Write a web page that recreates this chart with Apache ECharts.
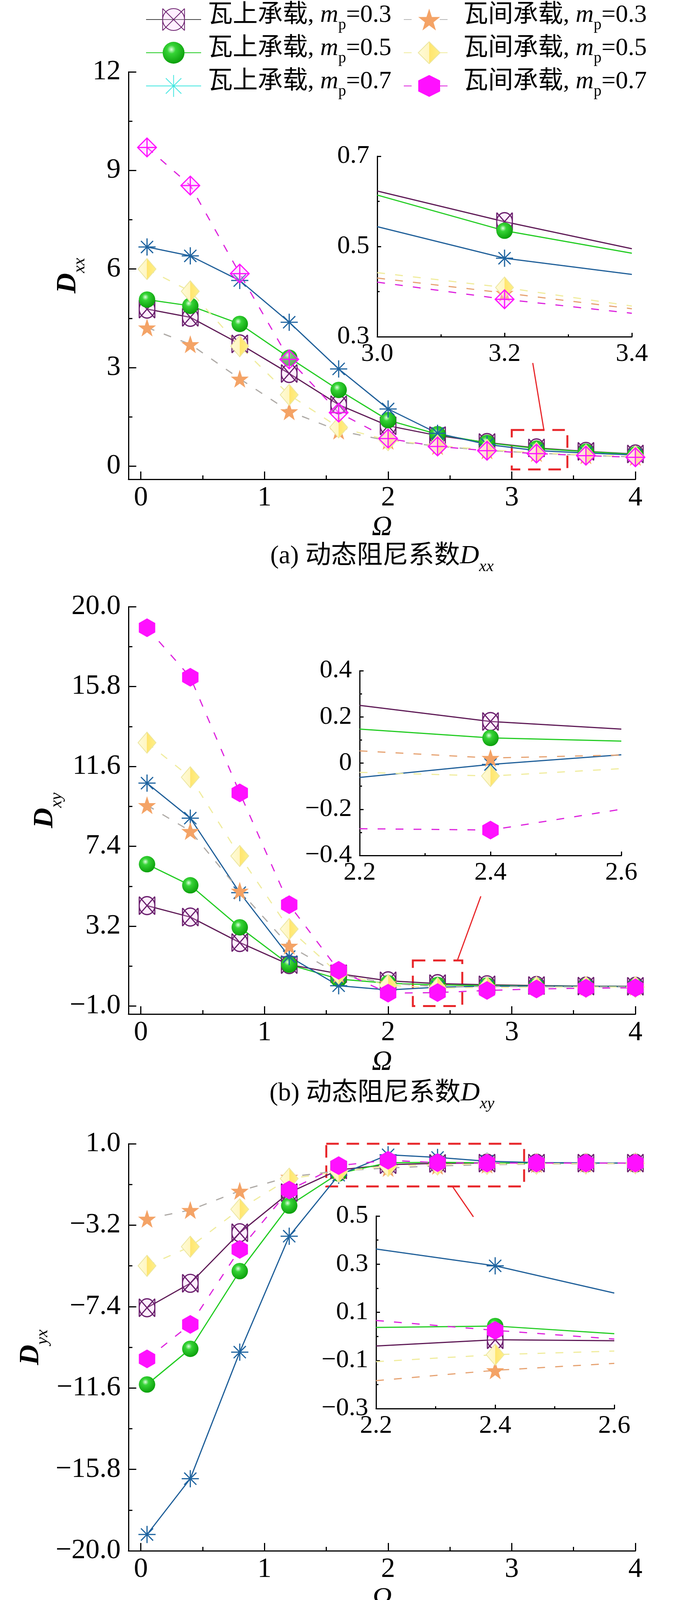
<!DOCTYPE html>
<html>
<head>
<meta charset="utf-8">
<script src="https://cdn.jsdelivr.net/npm/echarts@6/dist/echarts.min.js"></script>
<style>
html,body{margin:0;padding:0;background:#ffffff;}
#chart{width:1772px;height:5616px;}
</style>
</head>
<body>
<div id="chart"></div>
<script>
// ------------------------- DATA -------------------------
const OMEGA = [0.05, 0.4, 0.8, 1.2, 1.6, 2.0, 2.4, 2.8, 3.2, 3.6, 4.0];
const LOAD_TYPES = ['瓦上承载', '瓦间承载'];
const MP_VALUES = ['0.3', '0.5', '0.7'];
const CAPTIONS = ['(a) 动态阻尼系数', '(b) 动态阻尼系数', '(c) 动态阻尼系数', '(d) 动态阻尼系数'];
const SUBSCRIPTS = ['xx', 'xy', 'yx', 'yy'];
const X_NAME = 'Ω';

// (a) Dxx
const DXX_TOP_03 = [4.78, 4.53, 3.72, 2.82, 1.87, 1.23, 0.93, 0.72, 0.555, 0.45, 0.37];
const DXX_TOP_05 = [5.07, 4.88, 4.33, 3.30, 2.32, 1.40, 0.97, 0.71, 0.535, 0.44, 0.36];
const DXX_TOP_07 = [6.67, 6.40, 5.65, 4.38, 2.96, 1.74, 1.00, 0.66, 0.474, 0.40, 0.34];
const DXX_GAP_03 = [4.22, 3.71, 2.66, 1.67, 1.08, 0.77, 0.61, 0.48, 0.397, 0.33, 0.28];
const DXX_GAP_05 = [6.00, 5.32, 3.65, 2.17, 1.18, 0.79, 0.63, 0.50, 0.409, 0.34, 0.30];
const DXX_GAP_07 = [9.70, 8.54, 5.86, 3.25, 1.63, 0.84, 0.60, 0.47, 0.383, 0.32, 0.27];
const INSET_A_X = [3.0, 3.2, 3.4];
const INSET_A_TOP_03 = [0.623, 0.555, 0.495];
const INSET_A_TOP_05 = [0.614, 0.535, 0.485];
const INSET_A_TOP_07 = [0.544, 0.474, 0.438];
const INSET_A_GAP_03 = [0.430, 0.397, 0.362];
const INSET_A_GAP_05 = [0.442, 0.409, 0.368];
const INSET_A_GAP_07 = [0.421, 0.383, 0.352];

// (b) Dxy
const DXY_TOP_03 = [4.28, 3.68, 2.34, 1.18, 0.70, 0.33, 0.18, 0.12, 0.08, 0.05, 0.04];
const DXY_TOP_05 = [6.46, 5.35, 3.14, 1.18, 0.42, 0.20, 0.109, 0.08, 0.06, 0.04, 0.03];
const DXY_TOP_07 = [10.72, 8.88, 4.96, 1.60, 0.07, -0.15, -0.006, 0.05, 0.05, 0.03, 0.02];
const DXY_GAP_03 = [9.56, 8.20, 5.06, 2.17, 0.67, 0.20, 0.022, 0.03, 0.02, 0.01, 0.01];
const DXY_GAP_05 = [12.85, 11.03, 6.89, 3.05, 0.70, 0.10, -0.056, -0.02, 0.0, 0.0, 0.0];
const DXY_GAP_07 = [18.89, 16.29, 10.21, 4.33, 0.88, -0.32, -0.29, -0.18, -0.10, -0.06, -0.04];
const INSET_B_X = [2.2, 2.4, 2.6];
const INSET_B_TOP_03 = [0.25, 0.18, 0.147];
const INSET_B_TOP_05 = [0.147, 0.109, 0.095];
const INSET_B_TOP_07 = [-0.062, -0.006, 0.036];
const INSET_B_GAP_03 = [0.053, 0.022, 0.035];
const INSET_B_GAP_05 = [-0.040, -0.056, -0.024];
const INSET_B_GAP_07 = [-0.284, -0.290, -0.200];

// (c) Dyx
const DYX_TOP_03 = [-7.46, -6.20, -3.59, -1.52, -0.35, -0.08, -0.014, 0.0, 0.0, 0.0, 0.0];
const DYX_TOP_05 = [-11.42, -9.58, -5.57, -2.19, -0.53, 0.02, 0.043, 0.01, 0.0, 0.0, 0.0];
const DYX_TOP_07 = [-19.16, -16.28, -9.75, -3.77, -0.62, 0.43, 0.293, 0.10, 0.03, 0.01, 0.0];
const DYX_GAP_03 = [-2.87, -2.42, -1.43, -0.71, -0.40, -0.25, -0.141, -0.08, -0.05, -0.03, -0.02];
const DYX_GAP_05 = [-5.30, -4.31, -2.38, -0.80, -0.44, -0.15, -0.076, -0.04, -0.03, -0.02, -0.01];
const DYX_GAP_07 = [-10.10, -8.32, -4.45, -1.39, -0.13, 0.15, 0.025, 0.0, 0.0, 0.0, 0.0];
const INSET_C_X = [2.2, 2.4, 2.6];
const INSET_C_TOP_03 = [-0.040, -0.014, -0.018];
const INSET_C_TOP_05 = [0.037, 0.043, 0.011];
const INSET_C_TOP_07 = [0.363, 0.293, 0.180];
const INSET_C_GAP_03 = [-0.184, -0.141, -0.112];
const INSET_C_GAP_05 = [-0.105, -0.076, -0.061];
const INSET_C_GAP_07 = [0.066, 0.025, -0.011];

// (d) Dyy
const DYY_TOP_03 = [4.47, 3.79, 2.56, 1.65, 1.08, 0.90, 0.60, 0.48, 0.404, 0.34, 0.30];
const DYY_TOP_05 = [7.29, 6.24, 4.10, 2.27, 1.20, 0.89, 0.65, 0.50, 0.407, 0.35, 0.31];
const DYY_TOP_07 = [12.30, 10.75, 7.09, 3.76, 1.47, 0.61, 0.42, 0.40, 0.372, 0.33, 0.29];
const DYY_GAP_03 = [5.77, 5.40, 4.41, 3.18, 2.13, 1.26, 0.83, 0.64, 0.518, 0.44, 0.38];
const DYY_GAP_05 = [7.19, 6.76, 5.52, 3.98, 2.56, 1.38, 0.89, 0.66, 0.510, 0.43, 0.37];
const DYY_GAP_07 = [9.50, 8.92, 7.40, 5.31, 3.30, 1.82, 0.95, 0.60, 0.432, 0.36, 0.31];
const INSET_D_X = [3.0, 3.2, 3.4];
const INSET_D_TOP_03 = [0.450, 0.404, 0.374];
const INSET_D_TOP_05 = [0.450, 0.407, 0.377];
const INSET_D_TOP_07 = [0.392, 0.372, 0.346];
const INSET_D_GAP_03 = [0.585, 0.518, 0.469];
const INSET_D_GAP_05 = [0.579, 0.510, 0.464];
const INSET_D_GAP_07 = [0.495, 0.432, 0.407];

// tick labels / axis ranges
const MAIN_X_TICKS = [0, 1, 2, 3, 4];
const MAIN_X_RANGE = [-0.1, 4];
const DXX_Y_TICKS = [0, 3, 6, 9, 12];          const DXX_Y_RANGE = [-0.4, 12];
const DXY_Y_TICKS = [-1.0, 3.2, 7.4, 11.6, 15.8, 20.0]; const DXY_Y_RANGE = [-1.42, 20];
const DYX_Y_TICKS = [-20.0, -15.8, -11.6, -7.4, -3.2, 1.0]; const DYX_Y_RANGE = [-20, 1];
const DYY_Y_TICKS = [0, 2.6, 5.2, 7.8, 10.4, 13.0]; const DYY_Y_RANGE = [-0.42, 13];
const INSET_A_Y_TICKS = [0.3, 0.5, 0.7];  const INSET_A_Y_RANGE = [0.3, 0.7];
const INSET_B_Y_TICKS = [-0.4, -0.2, 0, 0.2, 0.4]; const INSET_B_Y_RANGE = [-0.4, 0.4];
const INSET_C_Y_TICKS = [-0.3, -0.1, 0.1, 0.3, 0.5]; const INSET_C_Y_RANGE = [-0.3, 0.5];
const INSET_D_Y_TICKS = [0.3, 0.5, 0.7];  const INSET_D_Y_RANGE = [0.3, 0.7];

// zoom boxes [xmin, xmax, ymin, ymax] and leader lines [[x,y],[x,y]] in data units
const BOX_A = [3.0, 3.45, -0.1, 1.1];   const LEADER_A = [[3.17, 3.14], [3.26, 1.1]];
const BOX_B = [2.2, 2.6, -1.0, 1.4];    const LEADER_B = [[2.75, 4.77], [2.56, 1.4]];
const BOX_C = [1.5, 3.1, -1.2, 1.0];    const LEADER_C = [[2.52, -1.2], [2.69, -2.77]];
const BOX_D = [3.0, 3.4, -0.1, 1.0];    const LEADER_D = [[3.2, 3.17], [3.2, 1.0]];

// ------------------------- STYLE / LAYOUT -------------------------
const SERIF = "'Liberation Serif','Times New Roman','Noto Sans CJK SC',serif";
const RED = '#E8262A';
const LAYOUT = [
  {grid: {left: 329, top: 184, width: 1298, height: 1043}, inset: {left: 966, top: 400, width: 652, height: 462}, yNameGap: 100, caption: 1437},
  {grid: {left: 329, top: 1553, width: 1298, height: 1043}, inset: {left: 921, top: 1717, width: 670, height: 473}, yNameGap: 150, caption: 2812},
  {grid: {left: 329, top: 2928, width: 1298, height: 1042}, inset: {left: 963, top: 3113, width: 610, height: 493}, yNameGap: 150, caption: 4187},
  {grid: {left: 329, top: 4303, width: 1298, height: 1049}, inset: {left: 938, top: 4472, width: 738, height: 520}, yNameGap: 150, caption: 5565}
];

const PANELS = [
  {main: [DXX_TOP_03, DXX_TOP_05, DXX_TOP_07, DXX_GAP_03, DXX_GAP_05, DXX_GAP_07], yTicks: DXX_Y_TICKS, yRange: DXX_Y_RANGE, yDec: 0,
   insetX: INSET_A_X, inset: [INSET_A_TOP_03, INSET_A_TOP_05, INSET_A_TOP_07, INSET_A_GAP_03, INSET_A_GAP_05, INSET_A_GAP_07], insetYTicks: INSET_A_Y_TICKS, insetYRange: INSET_A_Y_RANGE, box: BOX_A, leader: LEADER_A},
  {main: [DXY_TOP_03, DXY_TOP_05, DXY_TOP_07, DXY_GAP_03, DXY_GAP_05, DXY_GAP_07], yTicks: DXY_Y_TICKS, yRange: DXY_Y_RANGE, yDec: 1,
   insetX: INSET_B_X, inset: [INSET_B_TOP_03, INSET_B_TOP_05, INSET_B_TOP_07, INSET_B_GAP_03, INSET_B_GAP_05, INSET_B_GAP_07], insetYTicks: INSET_B_Y_TICKS, insetYRange: INSET_B_Y_RANGE, box: BOX_B, leader: LEADER_B},
  {main: [DYX_TOP_03, DYX_TOP_05, DYX_TOP_07, DYX_GAP_03, DYX_GAP_05, DYX_GAP_07], yTicks: DYX_Y_TICKS, yRange: DYX_Y_RANGE, yDec: 1,
   insetX: INSET_C_X, inset: [INSET_C_TOP_03, INSET_C_TOP_05, INSET_C_TOP_07, INSET_C_GAP_03, INSET_C_GAP_05, INSET_C_GAP_07], insetYTicks: INSET_C_Y_TICKS, insetYRange: INSET_C_Y_RANGE, box: BOX_C, leader: LEADER_C},
  {main: [DYY_TOP_03, DYY_TOP_05, DYY_TOP_07, DYY_GAP_03, DYY_GAP_05, DYY_GAP_07], yTicks: DYY_Y_TICKS, yRange: DYY_Y_RANGE, yDec: 1,
   insetX: INSET_D_X, inset: [INSET_D_TOP_03, INSET_D_TOP_05, INSET_D_TOP_07, INSET_D_GAP_03, INSET_D_GAP_05, INSET_D_GAP_07], insetYTicks: INSET_D_Y_TICKS, insetYRange: INSET_D_Y_RANGE, box: BOX_D, leader: LEADER_D}
];

const PURPLE_PATH = 'path://M0,0L0,100M100,0L100,100M0,0L100,100M100,0L0,100M50,0A50,50,0,1,1,50,100A50,50,0,1,1,50,0Z';
const ASTER_PATH = 'path://M50,0L50,100M0,50L100,50M14.6,14.6L85.4,85.4M85.4,14.6L14.6,85.4';
const STAR_PATH = 'path://M50,0L61.8,35.1L97.6,35.1L68.8,56.7L79.4,91L50,70L20.6,91L31.2,56.7L2.4,35.1L38.2,35.1Z';
const HEX_PATH = 'path://M50,0L93.3,25L93.3,75L50,100L6.7,75L6.7,25Z';
const DIAMOND_CROSS_PATH = 'path://M50,0L100,50L50,100L0,50ZM50,0L50,100M0,50L100,50';
const SPHERE = {type: 'radial', x: 0.4, y: 0.35, r: 0.7, colorStops: [
  {offset: 0, color: '#e0ffe0'}, {offset: 0.28, color: '#36d436'}, {offset: 1, color: '#079a07'}]};
const HALF_YELLOW = {type: 'linear', x: 0, y: 0, x2: 1, y2: 0, colorStops: [
  {offset: 0, color: '#fffbd8'}, {offset: 0.5, color: '#fff6c0'}, {offset: 0.5, color: '#ffe56e'}, {offset: 1, color: '#fff08a'}]};
const DASH = [20, 26];

function styleFor(k, isInset, panelIdx) {
  const lw = 3;
  switch (k) {
    case 0: return {symbol: PURPLE_PATH, symbolSize: [40, 46],
      itemStyle: {color: 'rgba(255,190,255,0.25)', borderColor: '#6B1F6E', borderWidth: 3},
      lineStyle: {color: '#5E1A56', width: lw, type: 'solid'}};
    case 1: return {symbol: 'circle', symbolSize: 42,
      itemStyle: {color: SPHERE, borderWidth: 0},
      lineStyle: {color: '#22CC22', width: lw, type: 'solid'}};
    case 2: return {symbol: ASTER_PATH, symbolSize: 44,
      itemStyle: {color: 'rgba(0,0,0,0)', borderColor: '#1F64A0', borderWidth: 3},
      lineStyle: {color: '#1F5F99', width: lw, type: 'solid'}};
    case 3: return {symbol: STAR_PATH, symbolSize: 46,
      itemStyle: {color: '#F4A366', borderWidth: 0},
      lineStyle: {color: isInset ? '#E6A271' : '#AEAAA6', width: lw, type: DASH}};
    case 4: return {symbol: 'diamond', symbolSize: [46, 54],
      itemStyle: {color: HALF_YELLOW, borderColor: '#ECE6A0', borderWidth: 2},
      lineStyle: {color: '#F0EC9E', width: lw, type: DASH}};
    default:
      if (panelIdx === 0) return {symbol: DIAMOND_CROSS_PATH, symbolSize: 48,
        itemStyle: {color: 'rgba(255,180,255,0.35)', borderColor: '#FF10FF', borderWidth: 3},
        lineStyle: {color: '#DD22DD', width: lw, type: DASH}};
      return {symbol: HEX_PATH, symbolSize: [42, 48],
        itemStyle: {color: '#FF10FF', borderWidth: 0},
        lineStyle: {color: '#DD22DD', width: lw, type: DASH}};
  }
}

function seriesName(k) {
  return LOAD_TYPES[k < 3 ? 0 : 1] + ', mp=' + MP_VALUES[k % 3];
}

function fmt(dec) {
  return function (v) {
    if (Math.abs(v) < 1e-9) return '0';
    return v.toFixed(dec).replace('-', '\u2212');
  };
}
function midpoints(arr) {
  const r = [];
  for (let i = 0; i < arr.length - 1; i++) r.push(+((arr[i] + arr[i + 1]) / 2).toFixed(4));
  return r;
}

const grids = [], xAxes = [], yAxes = [], series = [], graphics = [];

function addAxes(gridIndex, xr, xt, xdec, yr, yt, ydec, big, yName, yNameGap) {
  const tickLen = big ? 20 : 10, minorLen = big ? 10 : 6;
  const fs = big ? 72 : 66;
  const xi = xAxes.length, yi = yAxes.length;
  xAxes.push({
    type: 'value', gridIndex, min: xr[0], max: xr[1], position: 'bottom',
    axisLine: {show: true, onZero: false, lineStyle: {color: '#000', width: 3}},
    axisTick: {show: true, inside: true, length: tickLen, lineStyle: {color: '#000', width: 3}, customValues: xt},
    axisLabel: {show: true, customValues: xt, formatter: fmt(xdec), fontFamily: SERIF, fontSize: fs, color: '#000', margin: 12},
    splitLine: {show: false},
    name: big ? X_NAME : '', nameLocation: 'middle', nameGap: 88,
    nameTextStyle: {fontFamily: SERIF, fontSize: 72, fontStyle: 'italic', color: '#000'}
  });
  xAxes.push({
    type: 'value', gridIndex, min: xr[0], max: xr[1], position: 'bottom',
    axisLine: {show: false, onZero: false},
    axisTick: {show: true, inside: true, length: minorLen, lineStyle: {color: '#000', width: 3}, customValues: midpoints(xt)},
    axisLabel: {show: false}, splitLine: {show: false}
  });
  yAxes.push({
    type: 'value', gridIndex, min: yr[0], max: yr[1], position: 'left',
    axisLine: {show: true, onZero: false, lineStyle: {color: '#000', width: 3}},
    axisTick: {show: true, inside: true, length: tickLen, lineStyle: {color: '#000', width: 3}, customValues: yt},
    axisLabel: {show: true, customValues: yt, formatter: fmt(ydec), fontFamily: SERIF, fontSize: fs, color: '#000', margin: 20},
    splitLine: {show: false},
    name: yName || '', nameLocation: 'middle', nameGap: yNameGap || 0, nameRotate: 90,
    nameTextStyle: {color: '#000', rich: {
      d: {fontFamily: SERIF, fontSize: 72, fontStyle: 'italic', fontWeight: 'bold', color: '#000', lineHeight: 72, padding: [0, 0, 16, 0], verticalAlign: 'bottom'},
      s: {fontFamily: SERIF, fontSize: 44, fontStyle: 'italic', color: '#000', lineHeight: 44, verticalAlign: 'bottom'}
    }}
  });
  yAxes.push({
    type: 'value', gridIndex, min: yr[0], max: yr[1], position: 'left',
    axisLine: {show: false, onZero: false},
    axisTick: {show: true, inside: true, length: minorLen, lineStyle: {color: '#000', width: 3}, customValues: midpoints(yt)},
    axisLabel: {show: false}, splitLine: {show: false}
  });
  return {xi, yi};
}

const axesIdx = [];
PANELS.forEach(function (p, pi) {
  const L = LAYOUT[pi];
  const gMain = grids.length;
  grids.push(Object.assign({containLabel: false}, L.grid));
  const gIns = grids.length;
  grids.push(Object.assign({containLabel: false}, L.inset));
  const m = addAxes(gMain, MAIN_X_RANGE, MAIN_X_TICKS, 0, p.yRange, p.yTicks, p.yDec, true,
    '{d|D}{s|' + SUBSCRIPTS[pi] + '}', L.yNameGap);
  const ins = addAxes(gIns, [p.insetX[0], p.insetX[p.insetX.length - 1]], p.insetX, 1,
    p.insetYRange, p.insetYTicks, 1, false, '', 0);
  axesIdx.push({m, ins});
  graphics.push({
    type: 'text', silent: true,
    style: {
      x: 978, y: L.caption, align: 'center', verticalAlign: 'middle',
      text: '{c|' + CAPTIONS[pi] + '}{d|D}{s|' + SUBSCRIPTS[pi] + '}',
      rich: {
        c: {fontFamily: SERIF, fontSize: 66, fill: '#000', lineHeight: 70, padding: [0, 0, 14, 0], verticalAlign: 'bottom'},
        d: {fontFamily: SERIF, fontSize: 68, fontStyle: 'italic', fill: '#000', lineHeight: 70, padding: [0, 0, 14, 0], verticalAlign: 'bottom'},
        s: {fontFamily: SERIF, fontSize: 42, fontStyle: 'italic', fill: '#000', lineHeight: 44, verticalAlign: 'bottom'}
      }
    }
  });
});

// series pushed in order b, c, d, a so the legend takes its symbols from (b)
[1, 2, 3, 0].forEach(function (pi) {
  const p = PANELS[pi];
  const a = axesIdx[pi];
  p.main.forEach(function (vals, k) {
    const st = styleFor(k, false, pi);
    series.push(Object.assign({
      type: 'line', name: seriesName(k), xAxisIndex: a.m.xi, yAxisIndex: a.m.yi,
      data: OMEGA.map(function (x, j) { return [x, vals[j]]; }),
      showSymbol: true, showAllSymbol: true, silent: true, animation: false, z: 3,
      emphasis: {disabled: true}
    }, st));
  });
  p.inset.forEach(function (vals, k) {
    const st = styleFor(k, true, pi);
    series.push(Object.assign({
      type: 'line', name: seriesName(k), xAxisIndex: a.ins.xi, yAxisIndex: a.ins.yi,
      data: p.insetX.map(function (x, j) {
        return j === 1 ? {value: [x, vals[j]]} : {value: [x, vals[j]], symbol: 'none'};
      }),
      showSymbol: true, showAllSymbol: true, silent: true, animation: false, z: 4,
      emphasis: {disabled: true}
    }, st));
  });
  series.push({
    type: 'line', xAxisIndex: a.m.xi, yAxisIndex: a.m.yi, data: [], silent: true, animation: false, z: 5,
    markArea: {silent: true, label: {show: false},
      itemStyle: {color: 'rgba(0,0,0,0)', borderColor: RED, borderWidth: 5, borderType: [32, 20]},
      data: [[{coord: [p.box[0], p.box[3]]}, {coord: [p.box[1], p.box[2]]}]]},
    markLine: {silent: true, symbol: ['none', 'none'], label: {show: false},
      lineStyle: {color: RED, width: 3, type: 'solid'},
      data: [[{coord: p.leader[0]}, {coord: p.leader[1]}]]}
  });
});

const legendRich = {
  c: {fontFamily: SERIF, fontSize: 64, color: '#000', lineHeight: 70, padding: [7, 0, 14, 0], verticalAlign: 'bottom'},
  i: {fontFamily: SERIF, fontSize: 64, fontStyle: 'italic', color: '#000', lineHeight: 70, padding: [7, 0, 14, 0], verticalAlign: 'bottom'},
  s: {fontFamily: SERIF, fontSize: 40, color: '#000', lineHeight: 48, verticalAlign: 'bottom'}
};
function legendFormatter(name) {
  const parts = name.split(', mp=');
  return '{c|' + parts[0] + ', }{i|m}{s|p}{c|=' + parts[1] + '}';
}
const topNames = [0, 1, 2].map(seriesName);
const gapNames = [3, 4, 5].map(seriesName);

const option = {
  backgroundColor: '#ffffff',
  animation: false,
  grid: grids,
  xAxis: xAxes,
  yAxis: yAxes,
  legend: [
    {orient: 'vertical', left: 373, top: 0, padding: 0, itemWidth: 141, itemHeight: 70, itemGap: 0,
     selectedMode: false, formatter: legendFormatter,
     textStyle: {fontFamily: SERIF, fontSize: 64, color: '#000', padding: [0, 0, 0, 12], rich: legendRich},
     data: [
       {name: topNames[0], lineStyle: {color: '#454545'}},
       {name: topNames[1]},
       {name: topNames[2], itemStyle: {borderColor: '#3EE6E0'}, lineStyle: {color: '#3EE6E0'}}
     ]},
    {orient: 'vertical', left: 1033, top: 0, padding: 0, itemWidth: 130, itemHeight: 70, itemGap: 0,
     selectedMode: false, formatter: legendFormatter,
     textStyle: {fontFamily: SERIF, fontSize: 64, color: '#000', padding: [0, 0, 0, 17], rich: legendRich},
     data: [{name: gapNames[0], lineStyle: {color: '#B8B8B8'}}, {name: gapNames[1]}, {name: gapNames[2]}]}
  ],
  series: series,
  graphic: graphics
};

const chart = echarts.init(document.getElementById('chart'), null, {renderer: 'canvas'});
chart.setOption(option);
</script>
</body>
</html>
